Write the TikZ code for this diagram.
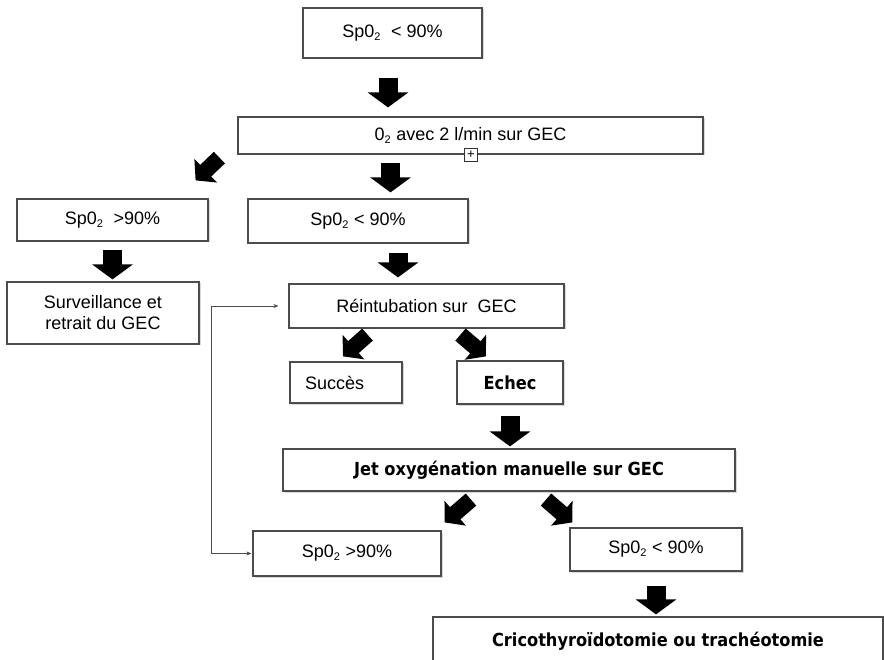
\documentclass[tikz,border=0pt]{standalone}
\usepackage{fontspec}
\setmainfont{Liberation Sans}
\newfontfamily\jetfont[FakeStretch=0.9]{DejaVu Sans}
\newcommand\subtwo{\textsubscript{\fontsize{11}{11}\selectfont 2}}
\usetikzlibrary{arrows.meta,calc,shadows}

\begin{document}
\begin{tikzpicture}[x=1pt,y=-1pt,
    box/.style={draw=black!70,line width=1.2pt,fill=white,inner sep=0pt,align=center,
      font=\fontsize{18}{21}\selectfont,
      drop shadow={shadow xshift=1.5pt,shadow yshift=-1.5pt,opacity=0.3}},
    boldbox/.style={box,font=\jetfont\bfseries\fontsize{18}{21}\selectfont},
    blk/.style={line width=19pt,-{Triangle[length=15pt,width=40pt]}},
    diag/.style={line width=16pt,-{Triangle[length=14pt,width=32pt]}},
    back/.style={draw=black!70,line width=0.8pt,{Stealth[length=5pt,width=4pt]}-{Stealth[length=5pt,width=4pt]}}]
        \clip (0,0) rectangle (884,660);
        \fill[white] (0,0) rectangle (884,660);
        \node[box,minimum width=179,minimum height=50] (top) at (392.5,33) {Sp0\subtwo\ \ < 90\%};
        \node[box,minimum width=465,minimum height=37] (otwo) at (470.5,135.5) {0\subtwo{} avec 2 l/min sur GEC};
        \node[box,minimum width=191,minimum height=42] (hione) at (112.5,220) {Sp0\subtwo\ \ >90\%};
        \node[box,minimum width=220,minimum height=44] (loone) at (358,221) {Sp0\subtwo{} < 90\%};
        \node[box,minimum width=192,minimum height=62] (surv) at (103,313) {Surveillance et\\retrait du GEC};
        \node[box,minimum width=275,minimum height=44] (reint) at (426.5,306) {Réintubation sur\ \ GEC};
        \node[box,minimum width=112,minimum height=41,text width=82,inner xsep=15,align=left] (succes) at (346,382.5) {Succès};
        \node[boldbox,minimum width=106,minimum height=43] (echec) at (510,382.5) {Echec};
        \node[boldbox,minimum width=452,minimum height=42] (jet) at (509,470) {Jet oxygénation manuelle sur GEC};
        \node[box,minimum width=188,minimum height=45] (hitwo) at (347,553.5) {Sp0\subtwo{} >90\%};
        \node[box,minimum width=172,minimum height=43] (lotwo) at (656,549.5) {Sp0\subtwo{} < 90\%};
        \node[boldbox,minimum width=450,minimum height=48] (cric) at (658,641) {Cricothyroïdotomie ou trachéotomie};
        \node[draw=black!80,line width=0.6pt,fill=white,minimum size=13,inner sep=0pt,font=\fontsize{13}{13}\selectfont] (anchr) at (471,155) {+};
        \draw[blk,shorten <=19pt,shorten >=9pt] ([xshift=-4.5pt]top.south) -- ([xshift=-4.5pt]top.south |- otwo.north);
        \draw[blk,shorten <=8pt,shorten >=6pt] ([xshift=-80pt]otwo.south) -- ([xshift=-80pt]otwo.south |- loone.north);
        \draw[blk,shorten <=8pt,shorten >=2pt] (hione.south) -- (hione.south |- surv.north);
        \draw[blk,shorten <=9pt,shorten >=6pt] ([xshift=40pt]loone.south) -- ([xshift=40pt]loone.south |- reint.north);
        \draw[blk,shorten <=11pt,shorten >=2pt] (echec.south) -- (echec.south |- jet.north);
        \draw[blk,shorten <=14pt,shorten >=2pt] (lotwo.south) -- (lotwo.south |- cric.north);
        \draw[diag] ($(otwo.south west)+(-18,3)$) -- ($(hione.north east)+(-13,-18)$);
        \draw[diag] ($(reint.south)+(-59,6)$) -- ($(succes.north)+(-3,-5)$);
        \draw[diag] ($(reint.south)+(34,6)$) -- ($(echec.north)+(-24,-4)$);
        \draw[diag] ($(jet.south)+(-38,8)$) -- ($(hitwo.north east)+(3,-8)$);
        \draw[diag] ($(jet.south)+(37,8)$) -- ($(lotwo.north west)+(3,-5)$);
        \draw[back,shorten >=10pt,shorten <=1pt] (hitwo.west) -- ++(-41,0) |- (reint.west);
    \end{tikzpicture}
\end{document}
